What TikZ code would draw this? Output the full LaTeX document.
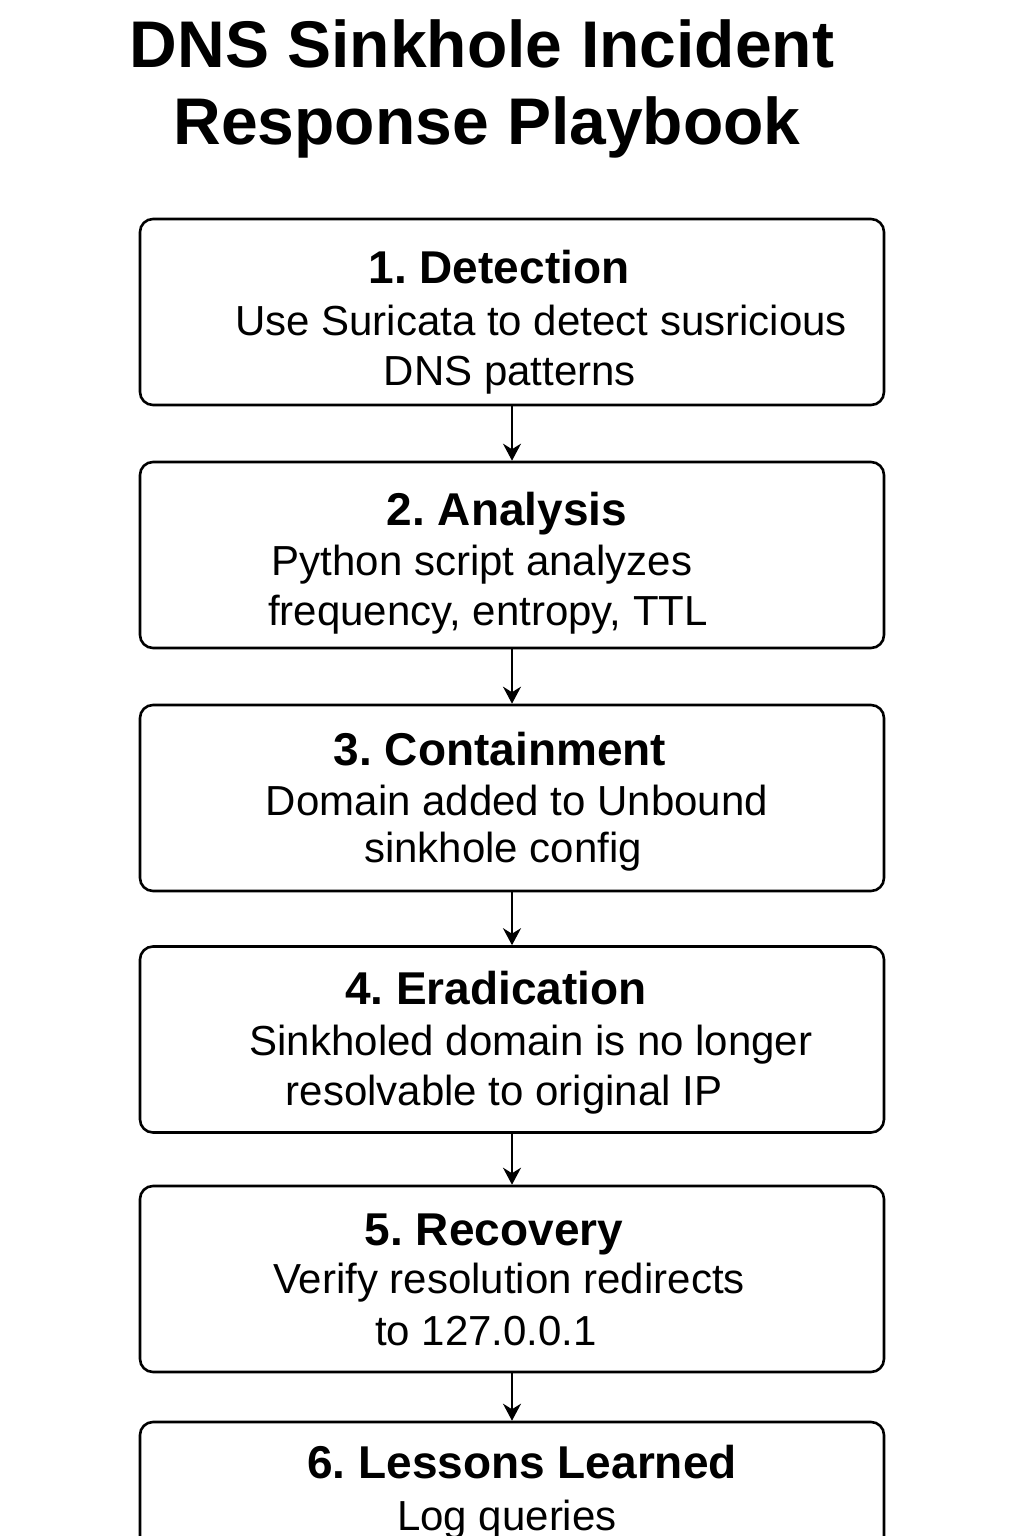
\documentclass[tikz,border=0pt]{standalone}
\usepackage{fontspec}
\setmainfont{Liberation Sans}
\usetikzlibrary{arrows.meta}
\frenchspacing
\begin{document}
\begin{tikzpicture}[x=1pt, y=-1pt, >={Stealth[length=17pt,width=18pt]}]
        \tikzstyle{phase}=[draw, rounded corners=13pt, line width=2.6pt, minimum width=744pt, minimum height=186pt, inner sep=0pt]
        \tikzstyle{head}=[anchor=base, inner sep=0pt, font=\fontsize{46}{50}\selectfont\bfseries]
        \tikzstyle{body}=[anchor=base, inner sep=0pt, font=\fontsize{42}{46}\selectfont]
        \tikzstyle{title}=[anchor=base, inner sep=0pt, font=\fontsize{66}{70}\selectfont\bfseries]
        \tikzstyle{flow}=[->, line width=2.4pt]

        \useasboundingbox (0,0) rectangle (1024,1536);
        \clip (0,0) rectangle (1024,1536);

        % title
        \node[title](T1) at (482,68){DNS Sinkhole Incident};
        \node[title](T2) at (487,145){Response Playbook};

        % phases
        \node[phase](P1) at (512,312){};
        \node[phase](P2) at (512,555){};
        \node[phase](P3) at (512,798){};
        \node[phase](P4) at (512,1039.5){};
        \node[phase](P5) at (512,1279){};
        \node[phase](P6) at (512,1515){};

        \node[head](H1) at (499,283){1. Detection};
        \node[body](D1a) at (541,335){Use Suricata to detect susricious};
        \node[body](D1b) at (510,385){DNS patterns};

        \node[head](H2) at (507,525){2. Analysis};
        \node[body](D2a) at (482,575){Python script analyzes};
        \node[body](D2b) at (488,625){frequency, entropy, TTL};

        \node[head](H3) at (500,765){3. Containment};
        \node[body](D3a) at (517,815){Domain added to Unbound};
        \node[body](D3b) at (503,862){sinkhole config};

        \node[head](H4) at (496,1004){4. Eradication};
        \node[body](D4a) at (531,1055){Sinkholed domain is no longer};
        \node[body](D4b) at (504,1105){resolvable to original IP};

        \node[head](H5) at (494,1245){5. Recovery};
        \node[body](D5a) at (509,1293){Verify resolution redirects};
        \node[body](D5b) at (486,1345){to 127.0.0.1};

        \node[head](H6) at (522,1478){6. Lessons Learned};
        \node[body](D6a) at (507,1530){Log queries};

        \draw[flow] (P1) -- (P2);
        \draw[flow] (P2) -- (P3);
        \draw[flow] (P3) -- (P4);
        \draw[flow] (P4) -- (P5);
        \draw[flow] (P5) -- (P6);

\end{tikzpicture}
\end{document}
